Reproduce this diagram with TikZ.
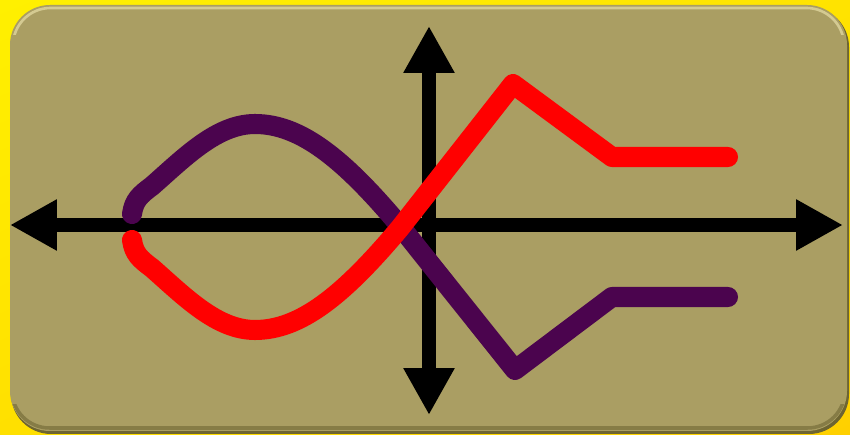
\documentclass[tikz,border=0pt]{standalone}
\usetikzlibrary{arrows.meta, shadings}
\definecolor{bgyellow}{HTML}{FFF000}
\definecolor{bgorange}{HTML}{FFD000}
\definecolor{panelolive}{HTML}{AA9E63}
\definecolor{paneldark}{HTML}{6E6532}
\definecolor{panellight}{HTML}{D4CA92}
\definecolor{curvepurple}{HTML}{4B044E}
\definecolor{curvered}{HTML}{FF0000}
\tikzset{
	axisline/.style={
			line width=8.5pt,
			{Triangle[length=26.7pt,width=27.3pt]}-{Triangle[length=26.7pt,width=27.3pt]}
		}
}
\tikzset{
	curveline/.style={line width=11.4pt, line cap=round, line join=round, draw=#1}
}

\begin{document}
\begin{tikzpicture}[x=0.02cm,y=-0.02cm]

			\useasboundingbox (0,0) rectangle (850,435);
			\shade[upper left=bgyellow, upper right=bgyellow!60!bgorange,
				lower left=bgyellow!50!bgorange, lower right=bgorange]
			(0,0) rectangle (850,435);

			% panel
			\begin{scope}
				\fill[paneldark, rounded corners=0.8cm] (11,7) rectangle (849,434);
				\fill[panelolive, rounded corners=0.8cm] (10,5) rectangle (847,431);
				\begin{scope}
					\clip (0,0) rectangle (850,35);
					\draw[panellight, line width=1.5pt, rounded corners=0.75cm] (13,8) rectangle (844,428);
				\end{scope}
				\begin{scope}
					\clip (0,405) rectangle (850,435);
					\draw[paneldark!60!panelolive, line width=2pt, rounded corners=0.75cm] (12,7) rectangle (845,428);
				\end{scope}
			\end{scope}

			% axes
			\coordinate (xl) at (10,225);
			\coordinate (xr) at (843,225);
			\coordinate (yt) at (429,26);
			\coordinate (yb) at (429,415);
			\draw[axisline] (xl) -- (xr);
			\draw[axisline] (yb) -- (yt);

			% curves
			\draw[curveline=curvepurple] (132,214) .. controls (134,200) and (140,195) .. (152,186)
				.. controls (185,157) and (217,124) .. (255,124)
				.. controls (300,124) and (343,158) .. (400,226)
				-- (515,370) -- (612,297) -- (728,297);
			\draw[curveline=curvered] (132,240) .. controls (134,254) and (140,259) .. (152,268)
				.. controls (185,297) and (217,330) .. (255,330)
				.. controls (300,330) and (343,296) .. (400,228)
				-- (513,84) -- (612,157) -- (728,157);

		\end{tikzpicture}
\end{document}
